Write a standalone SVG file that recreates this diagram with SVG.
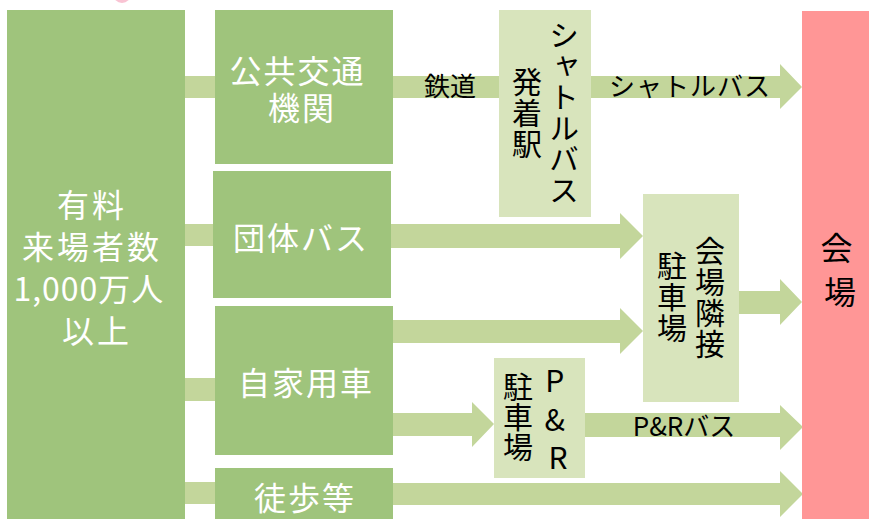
<svg xmlns="http://www.w3.org/2000/svg" width="870" height="519" viewBox="0 0 870 519">
<style>
.box{fill:#9fc47c}
.lbox{fill:#d8e4bc}
.venue{fill:#ff9696}
.arr{fill:#c3d69b}
.wt{font-family:"Noto Sans CJK JP","Noto Sans",sans-serif;fill:#ffffff;font-size:32px;text-anchor:middle}
.bt{font-family:"Noto Sans CJK JP","Noto Sans",sans-serif;fill:#000000;text-anchor:middle}
.lbl{font-size:26px}
.vt{font-size:30px}
</style>
<rect width="870" height="519" fill="#ffffff"/>
<ellipse cx="122" cy="-6" rx="9" ry="9" fill="#f9c3d3"/>

<g id="connectors">
  <rect class="arr" x="185" y="76" width="30" height="22"/>
  <rect class="arr" x="185" y="224" width="30" height="22"/>
  <rect class="arr" x="185" y="378" width="30" height="23"/>
  <rect class="arr" x="185" y="482" width="30" height="22"/>
  <rect class="arr" x="393" y="76" width="106" height="22"/>
  <polygon class="arr" points="591,76 780,76 780,64 802,87 780,109 780,98 591,98"/>
  <polygon class="arr" points="391,224 620,224 620,213 643,236 620,259 620,248 391,248"/>
  <polygon class="arr" points="393,320 620,320 620,308 643,331 620,354 620,343 393,343"/>
  <polygon class="arr" points="739,291 780,291 780,279 802,302 780,325 780,314 739,314"/>
  <polygon class="arr" points="393,413 472,413 472,402 494,424 472,447 472,436 393,436"/>
  <polygon class="arr" points="585,413 780,413 780,405 803,427 780,450 780,437 585,437"/>
  <polygon class="arr" points="393,483 780,483 780,471 803,494 780,517 780,505 393,505"/>
  <text class="bt lbl" x="450" y="96">鉄道</text>
  <text class="bt lbl" x="690" y="96" letter-spacing="1">シャトルバス</text>
  <text class="bt lbl" x="684" y="436">P&amp;Rバス</text>
</g>

<g id="visitors">
  <rect class="box" x="7" y="10" width="178" height="509"/>
  <text class="wt" letter-spacing="3">
    <tspan x="97" y="217">有料</tspan>
    <tspan x="97" y="259">来場者数</tspan>
    <tspan x="94" y="301" letter-spacing="1">1,000万人</tspan>
    <tspan x="97" y="343">以上</tspan>
  </text>
</g>

<g id="public-transport">
  <rect class="box" x="215" y="10" width="178" height="154"/>
  <text class="wt" letter-spacing="2">
    <tspan x="302" y="83">公共交通</tspan>
    <tspan x="302" y="120">機関</tspan>
  </text>
</g>

<g id="group-bus">
  <rect class="box" x="213" y="171" width="178" height="127"/>
  <text class="wt" letter-spacing="2" x="301" y="250">団体バス</text>
</g>

<g id="private-car">
  <rect class="box" x="215" y="306" width="178" height="149"/>
  <text class="wt" letter-spacing="2" x="306" y="395">自家用車</text>
</g>

<g id="walk">
  <rect class="box" x="215" y="468" width="178" height="51"/>
  <text class="wt" letter-spacing="2" x="305" y="510">徒歩等</text>
</g>

<g id="shuttle-station">
  <rect class="lbox" x="499" y="10" width="92" height="207"/>
  <text class="bt vt" x="564" y="20" style="writing-mode:vertical-rl;text-anchor:start" letter-spacing="1">シャトルバス</text>
  <text class="bt vt" x="527" y="67" style="writing-mode:vertical-rl;text-anchor:start" letter-spacing="1">発着駅</text>
</g>

<g id="adjacent-parking">
  <rect class="lbox" x="643" y="194" width="96" height="208"/>
  <text class="bt vt" x="710" y="236" style="writing-mode:vertical-rl;text-anchor:start" letter-spacing="1">会場隣接</text>
  <text class="bt vt" x="672" y="251" style="writing-mode:vertical-rl;text-anchor:start" letter-spacing="1">駐車場</text>
</g>

<g id="park-and-ride">
  <rect class="lbox" x="494" y="358" width="91" height="120"/>
  <text class="bt vt" x="518" y="372" style="writing-mode:vertical-rl;text-anchor:start">駐車場</text>
  <text class="bt vt">
    <tspan x="558" y="392">P</tspan>
    <tspan x="558" y="431">&amp;</tspan>
    <tspan x="558" y="469">R</tspan>
  </text>
</g>

<g id="venue">
  <rect class="venue" x="802" y="11" width="67" height="508"/>
  <text class="bt" font-size="32">
    <tspan x="840" y="260">会</tspan>
    <tspan x="840" y="304">場</tspan>
  </text>
</g>
</svg>
